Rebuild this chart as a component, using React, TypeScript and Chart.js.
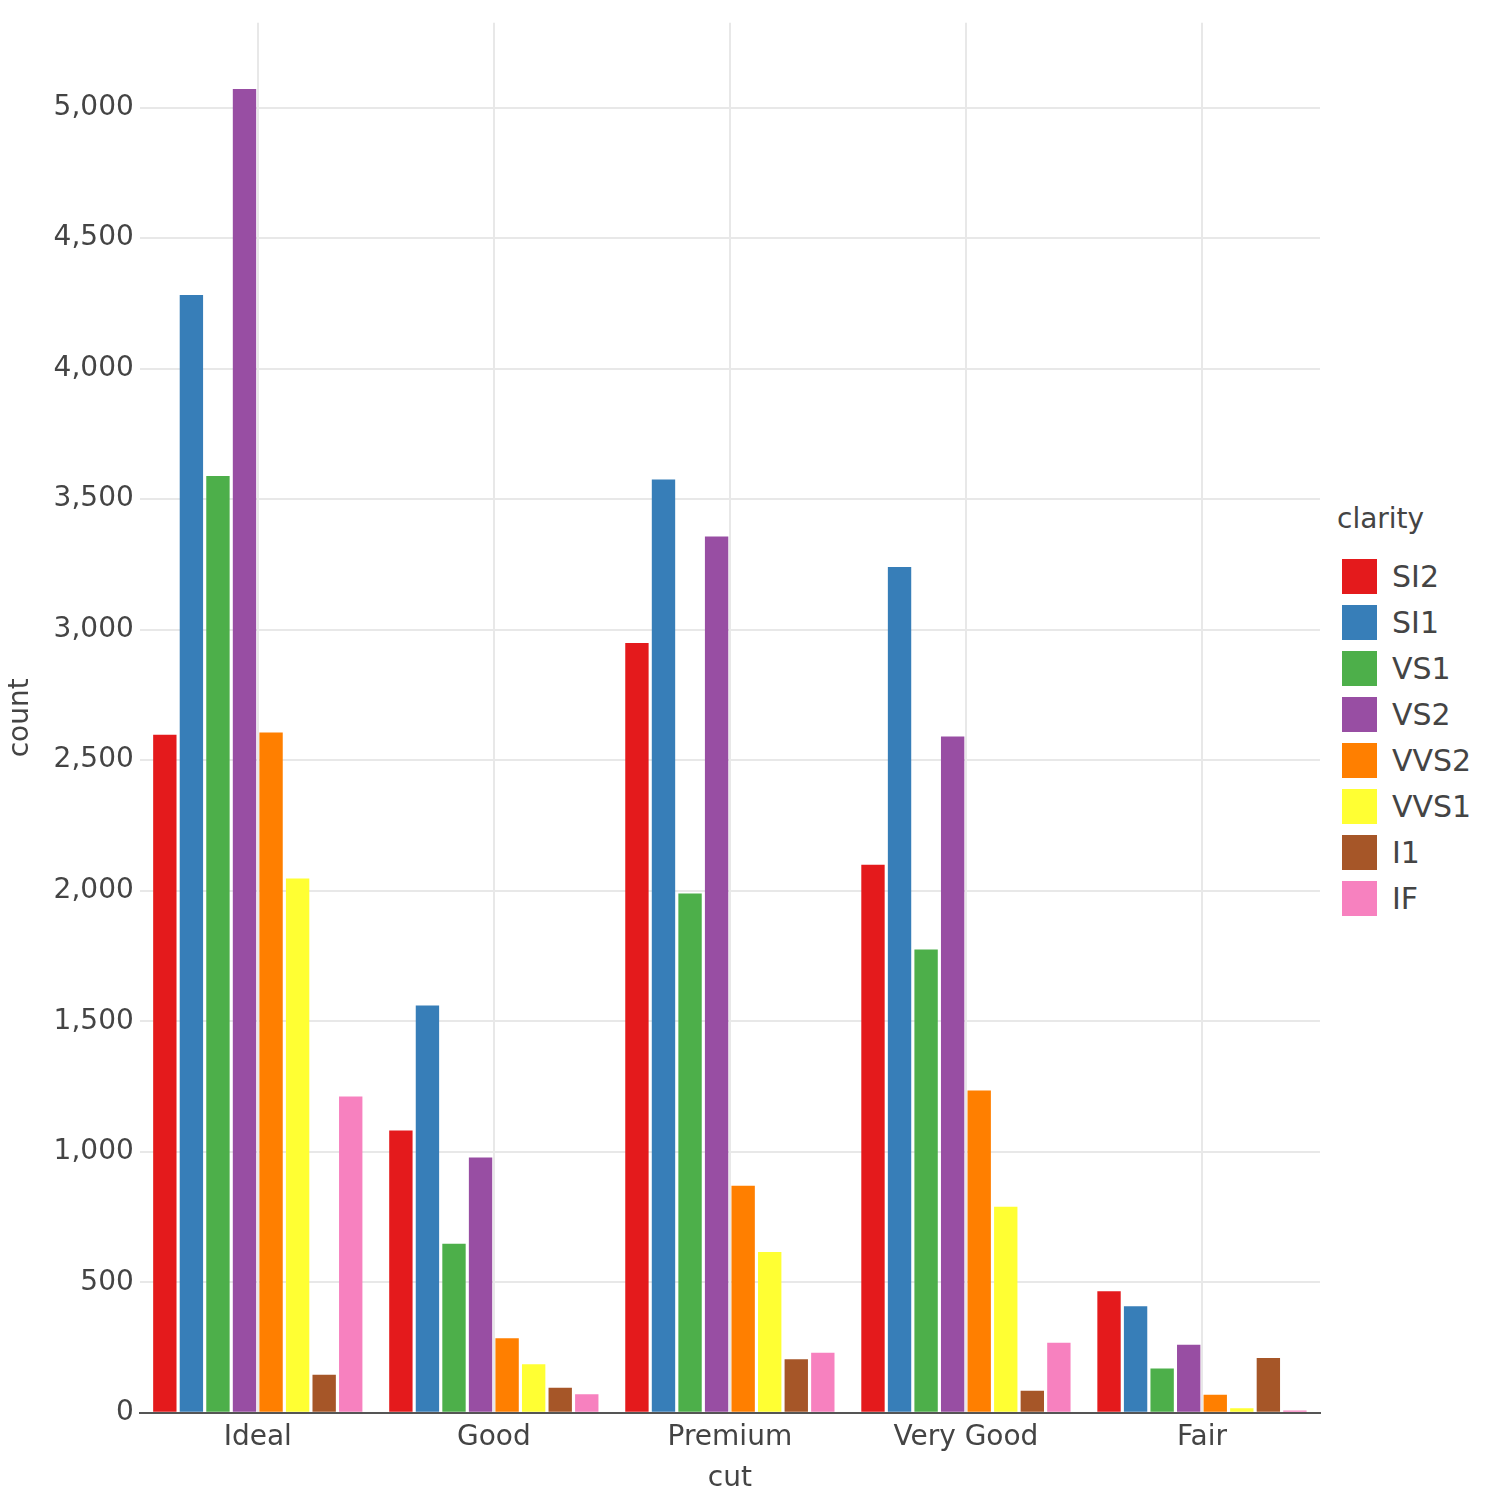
import React, { useEffect, useRef } from "react";
import { Chart, registerables } from "chart.js";
Chart.register(...registerables);

const cuts = ["Ideal", "Good", "Premium", "Very Good", "Fair"];
const clarities = ["SI2", "SI1", "VS1", "VS2", "VVS2", "VVS1", "I1", "IF"];
const colors = ["#E41A1C", "#377EB8", "#4DAF4A", "#984EA3", "#FF7F00", "#FFFF33", "#A65628", "#F781BF"];
const SI2 = [2598, 1081, 2949, 2100, 466];
const SI1 = [4282, 1560, 3575, 3240, 408];
const VS1 = [3589, 648, 1989, 1775, 170];
const VS2 = [5071, 978, 3357, 2591, 261];
const VVS2 = [2606, 286, 870, 1235, 69];
const VVS1 = [2047, 186, 616, 789, 17];
const I1 = [146, 96, 205, 84, 210];
const IF = [1212, 71, 230, 268, 9];
const series = [SI2, SI1, VS1, VS2, VVS2, VVS1, I1, IF];
const yTicks = [0, 500, 1000, 1500, 2000, 2500, 3000, 3500, 4000, 4500, 5000];
const font = "'DejaVu Sans', sans-serif";

export default function App() {
  const ref = useRef<HTMLCanvasElement>(null);
  useEffect(() => {
    const chart = new Chart(ref.current!, {
      type: "bar",
      data: {
        labels: cuts,
        datasets: clarities.map((c, i) => ({
          label: c,
          data: series[i],
          backgroundColor: colors[i],
          categoryPercentage: 0.9,
          barPercentage: 0.88,
        })),
      },
      options: {
        animation: false,
        responsive: false,
        layout: { padding: { top: 12, right: 5, left: 0, bottom: 0 } },
        plugins: { legend: { display: false }, tooltip: { enabled: false } },
        scales: {
          x: {
            grid: { offset: false, color: "#e8e8e8", lineWidth: 2, drawTicks: false },
            border: { color: "#555", width: 2 },
            ticks: { color: "#444", font: { family: font, size: 28 }, padding: 8 },
            title: { display: true, text: "cut", color: "#444", font: { family: font, size: 28 }, padding: { top: 0 } },
          },
          y: {
            min: 0,
            max: 5325,
            afterBuildTicks: (ax: any) => {
              ax.ticks = yTicks.map((v) => ({ value: v }));
            },
            grid: { color: "#e8e8e8", lineWidth: 2, drawTicks: false },
            border: { display: false },
            ticks: {
              color: "#444",
              font: { family: font, size: 28 },
              padding: 6,
              callback: (v: any) => Number(v).toLocaleString("en-US"),
            },
            title: { display: true, text: "count", color: "#444", font: { family: font, size: 28 }, padding: { bottom: 10 } },
          },
        },
      },
    });
    return () => chart.destroy();
  }, []);
  return (
    <div style={{ position: "relative", width: 1500, height: 1500, margin: -8, fontFamily: font, background: "#fff" }}>
      <canvas ref={ref} width={1325} height={1500} style={{ position: "absolute", left: 0, top: 0 }} />
      <div style={{ position: "absolute", left: 1337, top: 502, color: "#444" }}>
        <div style={{ fontSize: 28, marginBottom: 18 }}>clarity</div>
        {clarities.map((c, i) => (
          <div key={c} style={{ display: "flex", alignItems: "center", height: 46, marginLeft: 5 }}>
            <div style={{ width: 35, height: 35, background: colors[i], marginRight: 15 }} />
            <span style={{ fontSize: 30 }}>{c}</span>
          </div>
        ))}
      </div>
    </div>
  );
}
